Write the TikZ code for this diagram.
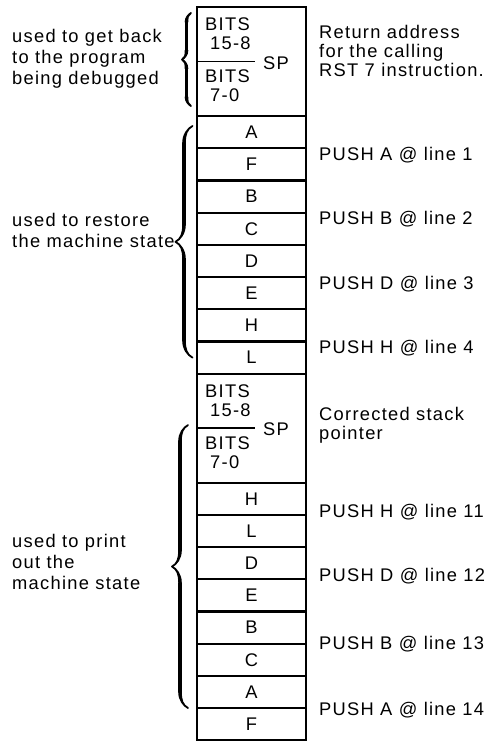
\documentclass[tikz,border=0pt]{standalone}
\usepackage{fontspec}
\setmainfont{Liberation Sans}[LetterSpace=7]
\usetikzlibrary{positioning,decorations.pathreplacing,calligraphy}

\begin{document}
\begin{tikzpicture}[x=1pt,y=1pt,
  font=\fontsize{18.3}{19}\selectfont,
  stack/.style={draw,line width=2.2pt,minimum width=109pt,inner sep=0pt,outer sep=0pt},
  reg/.style={stack,minimum height=32.2pt},
  bitsbox/.style={stack,minimum height=109pt},
  bits/.style={align=left,inner sep=0pt,anchor=north west},
  note/.style={align=left,inner sep=0pt},
  side/.style={align=left,inner sep=0pt,anchor=north west,font=\fontsize{18.3}{21}\selectfont},
  brc/.style={decorate,decoration={calligraphic brace,amplitude=#1},line width=3.6pt}]

\useasboundingbox (0,0) rectangle (497,-742);

% return address block
\node[bitsbox,anchor=north] (ret) at (251.5,-7) {};
\node[bits] (rethi) at ([xshift=8pt,yshift=-11pt]ret.north west) {BITS\\\hspace*{5pt}15-8};
\node[bits] (retlo) at ([xshift=8pt,yshift=-8pt]ret.west) {BITS\\\hspace*{5pt}7-0};
\coordinate (retcut) at ([xshift=58pt]ret.west);
\draw[line width=1.8pt] (ret.west) -- (retcut);
\node[note,anchor=west] (retsp) at ([xshift=66pt,yshift=-1.5pt]ret.west) {SP};

% saved registers
\node[reg,below=0pt of ret] (a1) {A};
\node[reg,below=0pt of a1] (f1) {F};
\node[reg,below=0pt of f1] (b1) {B};
\node[reg,below=0pt of b1] (c1) {C};
\node[reg,below=0pt of c1] (d1) {D};
\node[reg,below=0pt of d1] (e1) {E};
\node[reg,below=0pt of e1] (h1) {H};
\node[reg,below=0pt of h1] (l1) {L};

% corrected stack pointer block
\node[bitsbox,below=0pt of l1] (cor) {};
\node[bits] (corhi) at ([xshift=8pt,yshift=-11pt]cor.north west) {BITS\\\hspace*{5pt}15-8};
\node[bits] (corlo) at ([xshift=8pt,yshift=-8pt]cor.west) {BITS\\\hspace*{5pt}7-0};
\coordinate (corcut) at ([xshift=58pt]cor.west);
\draw[line width=1.8pt] (cor.west) -- (corcut);
\node[note,anchor=west] (corsp) at ([xshift=66pt,yshift=-1.5pt]cor.west) {SP};

% registers for printing
\node[reg,below=0pt of cor] (h2) {H};
\node[reg,below=0pt of h2] (l2) {L};
\node[reg,below=0pt of l2] (d2) {D};
\node[reg,below=0pt of d2] (e2) {E};
\node[reg,below=0pt of e2] (b2) {B};
\node[reg,below=0pt of b2] (c2) {C};
\node[reg,below=0pt of c2] (a2) {A};
\node[reg,below=0pt of a2] (f2) {F};

% right notes
\node[note,anchor=north west] (retnote) at ([xshift=13pt,yshift=-18pt]ret.north east)
  {Return address\\for the calling\\RST 7 instruction.};
\node[note,anchor=west] (pusha1) at ([xshift=13pt,yshift=-7pt]a1.south east) {PUSH A @ line 1};
\node[note,anchor=west] (pushb1) at ([xshift=13pt,yshift=-7pt]b1.south east) {PUSH B @ line 2};
\node[note,anchor=west] (pushd1) at ([xshift=13pt,yshift=-7pt]d1.south east) {PUSH D @ line 3};
\node[note,anchor=west] (pushh1) at ([xshift=13pt,yshift=-7pt]h1.south east) {PUSH H @ line 4};
\node[note,anchor=north west] (cornote) at ([xshift=13pt,yshift=-33pt]cor.north east)
  {Corrected stack\\pointer};
\node[note,anchor=west] (pushh2) at ([xshift=13pt,yshift=3pt]h2.south east) {PUSH H @ line 11};
\node[note,anchor=west] (pushd2) at ([xshift=13pt,yshift=3pt]d2.south east) {PUSH D @ line 12};
\node[note,anchor=west] (pushb2) at ([xshift=13pt,yshift=-1pt]b2.south east) {PUSH B @ line 13};
\node[note,anchor=west] (pusha2) at ([xshift=13pt,yshift=-2pt]a2.south east) {PUSH A @ line 14};

% left notes
\coordinate (lmarg) at (12,0);
\node[side,yshift=-22pt] (backnote) at (lmarg |- ret.north) {used to get back\\to the program\\being debugged};
\node[side,yshift=-97pt] (restnote) at (lmarg |- a1.north) {used to restore\\the machine state};
\node[side,yshift=-51pt] (printnote) at (lmarg |- cor.south) {used to print\\out the\\machine state};

% braces
\draw[brc=9pt] ([xshift=-6pt,yshift=10pt]ret.south west) -- ([xshift=-6pt,yshift=-6pt]ret.north west);
\draw[brc=17pt] ([xshift=-4.5pt,yshift=16pt]l1.south west) -- ([xshift=-4.5pt,yshift=-10pt]a1.north west);
\draw[brc=16pt] ([xshift=-9pt]f2.north west) -- ([xshift=-9pt,yshift=3pt]cor.west);
\end{tikzpicture}
\end{document}
